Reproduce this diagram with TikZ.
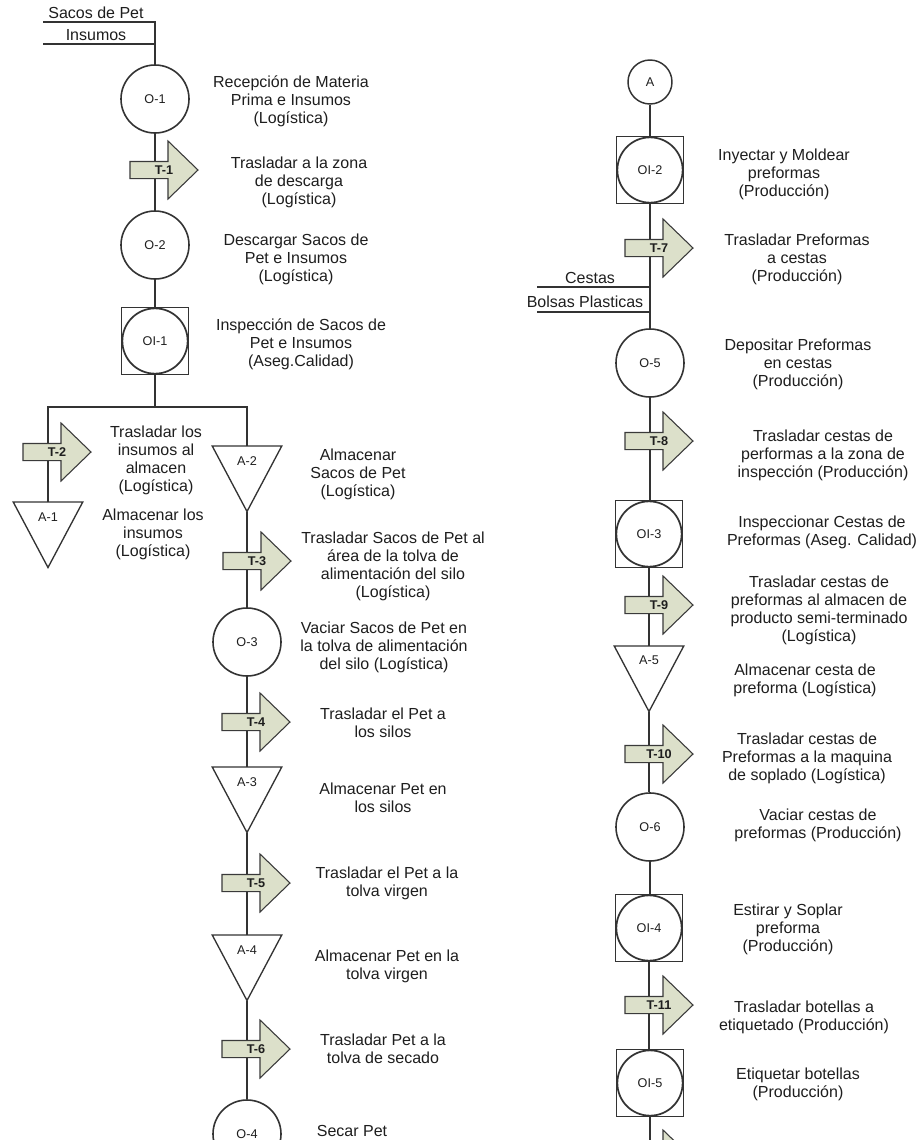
\documentclass[tikz,border=0pt]{standalone}
\usepackage{fontspec}
\setmainfont{Liberation Sans}
\usetikzlibrary{backgrounds}

\definecolor{ink}{HTML}{1E1E1E}
\definecolor{wire}{HTML}{333333}
\definecolor{tfill}{HTML}{DCE0CA}
\definecolor{tdraw}{HTML}{3A3A3A}

\tikzset{
  desc/.style={align=center, text=ink, inner sep=0pt,
    font=\fontsize{12}{13.5}\selectfont},
  lbl/.style={text=ink, inner sep=0pt, font=\fontsize{9.5}{10}\selectfont},
  wireline/.style={draw=wire, line width=1pt},
  % operation: plain circle
  oper/.style={circle, draw=wire, line width=1.2pt, minimum size=51pt,
    inner sep=0pt, lbl},
  % connector circle
  conn/.style={circle, draw=wire, line width=1.1pt, minimum size=33pt,
    inner sep=0pt, lbl},
  % combined operation + inspection: square with inscribed circle
  opinsp/.style={rectangle, draw=wire, line width=0.9pt, minimum size=50.25pt,
    inner sep=0pt, lbl,
    path picture={\draw[wire, line width=1.3pt]
      (path picture bounding box.center) circle (24.5pt);}},
  % storage: inverted triangle drawn on the node's box
  stor/.style={rectangle, minimum width=51.75pt, minimum height=48.75pt,
    inner sep=0pt, anchor=north},
  triline/.style={draw=wire, line width=1pt, line join=miter},
  % transport: block arrow pointing right
  transp/.style={rectangle, minimum width=53pt, minimum height=46pt,
    inner sep=0pt, text=ink, font=\bfseries\fontsize{9.5}{10}\selectfont,
    path picture={\filldraw[fill=tfill, draw=tdraw, line width=0.8pt, line join=miter]
      ([shift={(-25.5pt,6.4pt)}]path picture bounding box.center)
      -- ([shift={(3pt,6.4pt)}]path picture bounding box.center)
      -- ([shift={(3pt,21.75pt)}]path picture bounding box.center)
      -- ([shift={(25.5pt,0pt)}]path picture bounding box.center)
      -- ([shift={(3pt,-21.75pt)}]path picture bounding box.center)
      -- ([shift={(3pt,-6.4pt)}]path picture bounding box.center)
      -- ([shift={(-25.5pt,-6.4pt)}]path picture bounding box.center)
      -- cycle;}},
}

\begin{document}
\begin{tikzpicture}[x=0.75pt, y=-0.75pt]
\useasboundingbox (0,0) rectangle (921,1140);
\clip (0,0) rectangle (921,1140);

% ---------------- left column ----------------
\coordinate (inA) at (43,22);
\coordinate (inB) at (43,44);
\node[desc] (inAtxt) at (96,13) {Sacos de Pet};
\node[desc] (inBtxt) at (96,35) {Insumos};

\node[oper] (o1) at (155,99) {O-1};
\node[desc] (o1d) at (291,101) {Recepción de Materia\\Prima e Insumos\\(Logística)};

\node[transp] (t1) at (164,170) {T-1};
\node[desc] (t1d) at (299,182) {Trasladar a la zona\\de descarga\\(Logística)};

\node[oper] (o2) at (155,245) {O-2};
\node[desc] (o2d) at (296,259) {Descargar Sacos de\\Pet e Insumos\\(Logística)};

\node[opinsp] (oi1) at (155,341) {OI-1};
\node[desc] (oi1d) at (301,344) {Inspección de Sacos de\\Pet e Insumos\\(Aseg.Calidad)};

\coordinate (split) at (155,407);

\node[transp] (t2) at (57,452) {T-2};
\node[desc] (t2d) at (156,460) {Trasladar los\\insumos al\\almacen\\(Logística)};

\node[stor, label={[lbl, anchor=center, yshift=-11pt]north:A-1}] (a1) at (48,502) {};
\node[desc] (a1d) at (153,534) {Almacenar los\\insumos\\(Logística)};

\node[stor, label={[lbl, anchor=center, yshift=-11pt]north:A-2}] (a2) at (247,446) {};
\node[desc] (a2d) at (358,474) {Almacenar\\Sacos de Pet\\(Logística)};

\node[transp] (t3) at (257,561) {T-3};
\node[desc] (t3d) at (393,566) {Trasladar Sacos de Pet al\\área de la tolva de\\alimentación del silo\\(Logística)};

\node[oper] (o3) at (247,642) {O-3};
\node[desc] (o3d) at (384,647) {Vaciar Sacos de Pet en\\la tolva de alimentación\\del silo (Logística)};

\node[transp] (t4) at (256,722) {T-4};
\node[desc] (t4d) at (383,723) {Trasladar el Pet a\\los silos};

\node[stor, label={[lbl, anchor=center, yshift=-11pt]north:A-3}] (a3) at (247,767) {};
\node[desc] (a3d) at (383,798) {Almacenar Pet en\\los silos};

\node[transp] (t5) at (256,883) {T-5};
\node[desc] (t5d) at (387,883) {Trasladar el Pet a la\\tolva virgen};

\node[stor, label={[lbl, anchor=center, yshift=-11pt]north:A-4}] (a4) at (247,935) {};
\node[desc] (a4d) at (387,966) {Almacenar Pet en la\\tolva virgen};

\node[transp] (t6) at (256,1049) {T-6};
\node[desc] (t6d) at (383,1049) {Trasladar Pet a la\\tolva de secado};

\node[oper] (o4) at (247,1134) {O-4};
\node[desc] (o4d) at (352,1131) {Secar Pet};

% ---------------- right column ----------------
\node[conn] (ca) at (650,82) {A};

\node[opinsp] (oi2) at (650,170) {OI-2};
\node[desc] (oi2d) at (784,174) {Inyectar y Moldear\\preformas\\(Producción)};

\node[transp] (t7) at (659,248) {T-7};
\node[desc] (t7d) at (797,259) {Trasladar Preformas\\a cestas\\(Producción)};

\coordinate (inC) at (537,287);
\coordinate (inD) at (537,312);
\node[desc] (inCtxt) at (590,278) {Cestas};
\node[desc] (inDtxt) at (585,302) {Bolsas Plasticas};

\node[oper] (o5) at (650,363) {O-5};
\node[desc] (o5d) at (798,364) {Depositar Preformas\\en cestas\\(Producción)};

\node[transp] (t8) at (659,441) {T-8};
\node[desc] (t8d) at (823,455) {Trasladar cestas de\\performas a la zona de\\inspección (Producción)};

\node[opinsp] (oi3) at (649,534) {OI-3};
\node[desc] (oi3d) at (822,532) {Inspeccionar Cestas de\\Preformas (Aseg. Calidad)};

\node[transp] (t9) at (659,605) {T-9};
\node[desc] (t9d) at (819,610) {Trasladar cestas de\\preformas al almacen de\\producto semi-terminado\\(Logística)};

\node[stor, label={[lbl, anchor=center, yshift=-11pt]north:A-5}] (a5) at (649,646) {};
\node[desc] (a5d) at (805,680) {Almacenar cesta de\\preforma (Logística)};

\node[transp] (t10) at (659,754) {T-10};
\node[desc] (t10d) at (807,758) {Trasladar cestas de\\Preformas a la maquina\\de soplado (Logística)};

\node[oper] (o6) at (650,827) {O-6};
\node[desc] (o6d) at (818,825) {Vaciar cestas de\\preformas (Producción)};

\node[opinsp] (oi4) at (649,928) {OI-4};
\node[desc] (oi4d) at (788,929) {Estirar y Soplar\\preforma\\(Producción)};

\node[transp] (t11) at (659,1005) {T-11};
\node[desc] (t11d) at (804,1017) {Trasladar botellas a\\etiquetado (Producción)};

\node[opinsp] (oi5) at (650,1083) {OI-5};
\node[desc] (oi5d) at (798,1084) {Etiquetar botellas\\(Producción)};

\node[transp] (t12) at (659,1159) {};

% storage triangles
\foreach \s in {a1,a2,a3,a4,a5}
  \draw[triline] (\s.north west) -- (\s.north east) -- (\s.south) -- cycle;

% ---------------- flow lines (behind the symbols) ----------------
\begin{scope}[on background layer]
  \fill[white] (0,0) rectangle (921,1140);
  \clip (0,0) rectangle (921,1140);
  \draw[wireline] (inA) -| (o1);
  \draw[wireline] (inB) -- (inB -| o1);
  \draw[wireline] (o1) -- (o2);
  \draw[wireline] (o2) -- (oi1);
  \draw[wireline] (oi1) -- (split);
  \draw[wireline] (a1.north) |- (split);
  \draw[wireline] (split) -| (a2.north);
  \draw[wireline] (a2.south) -- (o3);
  \draw[wireline] (o3) -- (a3.north);
  \draw[wireline] (a3.south) -- (a4.north);
  \draw[wireline] (a4.south) -- (o4);

  \draw[wireline] (ca) -- (oi2);
  \draw[wireline] (oi2) -- (o5);
  \draw[wireline] (inC) -- (inC -| o5);
  \draw[wireline] (inD) -- (inD -| o5);
  \draw[wireline] (o5) -- (oi3.north -| o5);
  \draw[wireline] (oi3) -- (a5.north);
  \draw[wireline] (a5.south) -- (o6.north -| a5.south);
  \draw[wireline] (o6) -- (oi4.north -| o6);
  \draw[wireline] (oi4.south) -- (oi5.north -| oi4.south);
  \draw[wireline] (oi5.south) -- (oi5.south |- t12.south);
\end{scope}
\end{tikzpicture}
\end{document}
